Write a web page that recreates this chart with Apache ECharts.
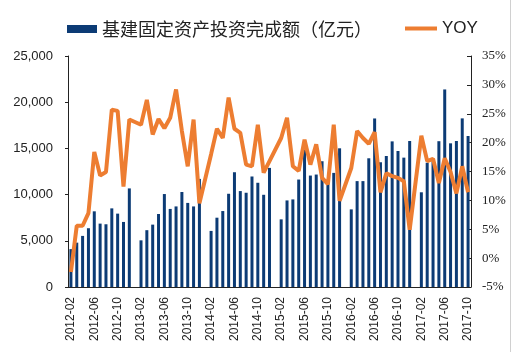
<!DOCTYPE html>
<html>
<head>
<meta charset="utf-8">
<script src="https://cdn.jsdelivr.net/npm/echarts@6/dist/echarts.min.js"></script>
<style>
  html, body { margin: 0; padding: 0; background: #fff; }
  #chart { width: 516px; height: 352px; }
</style>
</head>
<body>
<div id="chart"></div>
<script>
// 月份（1月无数据，为空）
const months = [
  '2012-02','2012-03','2012-04','2012-05','2012-06','2012-07','2012-08','2012-09','2012-10','2012-11','2012-12',
  '2013-01','2013-02','2013-03','2013-04','2013-05','2013-06','2013-07','2013-08','2013-09','2013-10','2013-11','2013-12',
  '2014-01','2014-02','2014-03','2014-04','2014-05','2014-06','2014-07','2014-08','2014-09','2014-10','2014-11','2014-12',
  '2015-01','2015-02','2015-03','2015-04','2015-05','2015-06','2015-07','2015-08','2015-09','2015-10','2015-11','2015-12',
  '2016-01','2016-02','2016-03','2016-04','2016-05','2016-06','2016-07','2016-08','2016-09','2016-10','2016-11','2016-12',
  '2017-01','2017-02','2017-03','2017-04','2017-05','2017-06','2017-07','2017-08','2017-09','2017-10'
]

// 基建固定资产投资完成额（亿元）
const investment = [
  4100, 4800, 5530, 6360, 8190, 6860, 6790, 8510, 7940, 7040, 10670,
  null, 5050, 6150, 6750, 7900, 10060, 8450, 8720, 10280, 9100, 8720, 11700,
  null, 6070, 7500, 8220, 10090, 12420, 10380, 10200, 11960, 11280, 9980, 12890,
  null, 7320, 9370, 9480, 11630, 14870, 12060, 12170, 13610, 11200, 12350, 15010,
  null, 8400, 11460, 11460, 13930, 18240, 13500, 14180, 15760, 14720, 14000, 15800,
  null, 10250, 13450, 13600, 15780, 21380, 15550, 15800, 18250, 16340
]

// 同比增速（%）
const yoy = [
  -2.4, 5.6, 5.6, 7.8, 18.4, 14.3, 14.9, 25.7, 25.5, 12.4, 24.0,
  null, 23.1, 27.4, 21.4, 24.1, 22.5, 24.3, 29.2, 22.0, 15.9, 24.0, 9.5,
  null, 18.0, 22.4, 20.8, 27.8, 22.4, 21.7, 16.2, 15.9, 23.1, 14.8, 16.8,
  null, 20.8, 24.3, 15.9, 15.1, 20.5, 16.2, 19.7, 13.9, 12.8, 23.1, 9.9,
  null, 15.6, 22.0, 20.8, 19.8, 21.8, 11.4, 14.7, 14.2, 13.9, 13.3, 4.9,
  null, 21.2, 16.8, 17.2, 13.0, 17.3, 14.9, 11.2, 15.9, 11.4
]

const barName = '基建固定资产投资完成额（亿元）'
const lineName = 'YOY'

const chart = echarts.init(document.getElementById('chart'))

const option = {
  animation: false,
  legend: [
    {
      left: 62,
      top: 15,
      itemWidth: 30,
      itemHeight: 8,
      data: [{ name: barName, icon: 'rect' }],
      textStyle: {
        fontFamily: '"Noto Sans CJK SC", sans-serif',
        fontSize: 18,
        color: '#222'
      }
    },
    {
      left: 400,
      top: 15,
      itemWidth: 32,
      itemHeight: 4,
      data: [{ name: lineName, icon: 'rect' }],
      textStyle: {
        fontFamily: '"Liberation Sans", Arial, sans-serif',
        fontSize: 17,
        color: '#222'
      }
    }
  ],
  grid: {
    left: 68,
    right: 45,
    top: 56,
    bottom: 65
  },
  xAxis: {
    type: 'category',
    data: months,
    boundaryGap: true,
    axisLine: { lineStyle: { color: '#222', width: 1 } },
    axisTick: { show: false },
    axisLabel: {
      interval: 3,
      rotate: 90,
      margin: 10,
      fontSize: 12,
      fontFamily: '"Liberation Sans", Arial, sans-serif',
      color: '#222'
    }
  },
  yAxis: [
    {
      type: 'value',
      min: 0,
      max: 25000,
      interval: 5000,
      splitLine: { show: false },
      axisLine: { show: true, lineStyle: { color: '#222' } },
      axisTick: { show: true, length: 3, lineStyle: { color: '#222' } },
      axisLabel: {
        margin: 15,
        fontSize: 13,
        fontFamily: '"Liberation Sans", Arial, sans-serif',
        color: '#222',
        formatter: function (v) {
          return v.toLocaleString('en-US')
        }
      }
    },
    {
      type: 'value',
      min: -5,
      max: 35,
      interval: 5,
      splitLine: { show: false },
      axisLine: { show: true, lineStyle: { color: '#222' } },
      axisTick: { show: true, inside: true, length: 4, lineStyle: { color: '#222' } },
      axisLabel: {
        margin: 11,
        fontSize: 13,
        fontFamily: '"Liberation Serif", "Times New Roman", serif',
        color: '#222',
        formatter: '{value}%'
      }
    }
  ],
  series: [
    {
      name: barName,
      type: 'bar',
      yAxisIndex: 0,
      barWidth: 3,
      itemStyle: { color: '#0C3B75' },
      data: investment
    },
    {
      name: lineName,
      type: 'line',
      yAxisIndex: 1,
      symbol: 'none',
      connectNulls: true,
      lineStyle: { color: '#ED7D31', width: 4 },
      itemStyle: { color: '#ED7D31' },
      data: yoy
    }
  ],
  graphic: [
    {
      type: 'line',
      shape: { x1: 510.5, y1: 0, x2: 510.5, y2: 352 },
      style: { stroke: '#d0d0d0', lineWidth: 1 }
    }
  ]
}

chart.setOption(option)
</script>
</body>
</html>
